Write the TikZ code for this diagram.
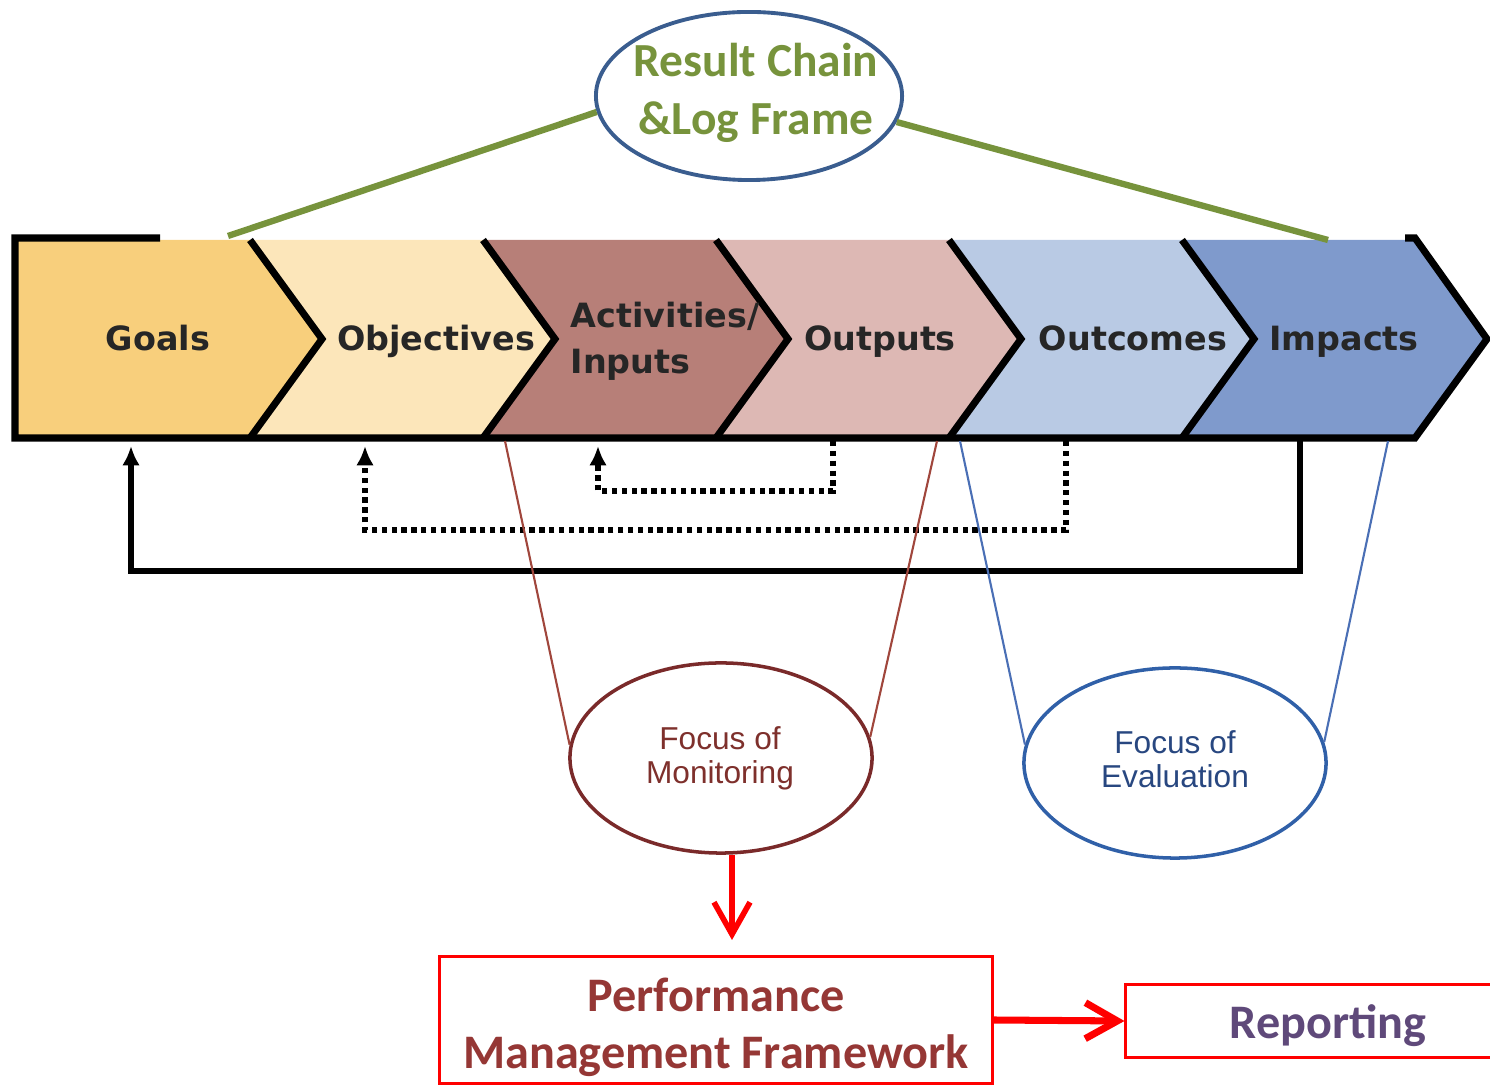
\documentclass[tikz,border=0pt]{standalone}
\usepackage{fontspec}
\newfontfamily\chevfont{DejaVu Sans}
\newfontfamily\calfont{Carlito}
\newfontfamily\focfont{Liberation Sans}
\usepackage{xcolor}
\usetikzlibrary{shapes.geometric, arrows.meta, positioning}

\definecolor{goalcol}{HTML}{F8CF7C}
\definecolor{objcol}{HTML}{FCE6BA}
\definecolor{actcol}{HTML}{B77F78}
\definecolor{outpcol}{HTML}{DDB8B4}
\definecolor{outccol}{HTML}{B9CAE4}
\definecolor{impcol}{HTML}{7F9ACC}
\definecolor{chaingreen}{HTML}{77933C}
\definecolor{chainblue}{HTML}{3A5D8F}
\definecolor{monred}{HTML}{7A2A2A}
\definecolor{montext}{HTML}{7E302C}
\definecolor{evalblue}{HTML}{3060A8}
\definecolor{evaltext}{HTML}{284780}
\definecolor{funnelred}{HTML}{A0463C}
\definecolor{funnelblue}{HTML}{4A6FB5}
\definecolor{pmfred}{HTML}{953735}
\definecolor{reppurple}{HTML}{5F497A}

\begin{document}
\begin{tikzpicture}[x=0.01cm, y=-0.01cm,
    band/.style={line width=2pt, line join=miter},
    chevlabel/.style={font=\chevfont\bfseries\fontsize{9.5}{13}\selectfont, text=black!85, inner sep=0},
    chainline/.style={chaingreen, line width=1.8pt},
    fbsolid/.style={line width=1.5pt, -{Latex[length=5.5pt,width=5pt]}},
    fbdotted/.style={line width=1.6pt, dash pattern=on 1.5pt off 1.3pt, -{Latex[length=5.5pt,width=5pt]}},
    focus/.style={ellipse, line width=1pt, minimum width=3.02cm, minimum height=1.9cm, inner sep=0},
    focustext/.style={align=center, inner sep=0, font=\focfont\fontsize{9}{9.6}\selectfont},
    redarrow/.style={red, line width=1.6pt, -{Straight Barb[length=3.2mm,width=3.6mm]}},
    framebox/.style={draw=red, line width=0.8pt, inner sep=0},
    frametext/.style={align=center, inner sep=0, font=\calfont\bfseries\fontsize{13.7}{16.2}\selectfont}]
    \useasboundingbox (0,0) rectangle (1490,1086);

    % chevron band
    \fill[goalcol] (15,240) -- (250,240) -- (322,339) -- (250,438) -- (15,438) -- cycle;
    \foreach \b/\c in {250/objcol, 483/actcol, 716/outpcol, 949/outccol, 1182/impcol} {
        \fill[\c] (\b,240) -- ({\b+233},240) -- ({\b+305},339) -- ({\b+233},438) -- (\b,438) -- ({\b+72},339) -- cycle;
    }
    \draw[band] (160,238) -- (15,238) -- (15,438) -- (1415,438) -- (1487,339) -- (1415,238) -- (1405,238);
    \foreach \b in {250, 483, 716, 949, 1182} {
        \draw[band] (\b,240) -- ({\b+72},339) -- (\b,438);
    }

    \node[chevlabel, anchor=base] (goals) at (158,351) {Goals};
    \node[chevlabel, anchor=base] (objectives) at (436,351) {Objectives};
    \node[chevlabel, anchor=west, align=left] (activities) at (570,341) {Activities/\\Inputs};
    \node[chevlabel, anchor=base] (outputs) at (880,351) {Outputs};
    \node[chevlabel, anchor=base] (outcomes) at (1133,351) {Outcomes};
    \node[chevlabel, anchor=base] (impacts) at (1344,351) {Impacts};

    % result chain
    \node[ellipse, draw=chainblue, line width=1.1pt, minimum width=3.06cm, minimum height=1.68cm, inner sep=0] (chain) at (749,96) {};
    \node[align=center, inner sep=0, text=chaingreen, font=\calfont\bfseries\fontsize{13.5}{16.5}\selectfont] (chaintext) at (756,93) {Result Chain\\\&Log Frame};
    \coordinate (gleft) at (228,236);
    \coordinate (gright) at (1328,240);
    \draw[chainline] (gleft) -- (chain.186);
    \draw[chainline] (chain.350) -- (gright);

    % feedback loops
    \coordinate (impb) at (1300,441);
    \coordinate (goalb) at (131,446);
    \coordinate (outcb) at (1066,441);
    \coordinate (objb) at (365,446);
    \coordinate (outpb) at (833,441);
    \coordinate (actb) at (598,446);
    \draw[fbsolid] (impb) -- (1300,571) -| (goalb);
    \draw[fbdotted] (outcb) -- (1066,530) -| (objb);
    \draw[fbdotted] (outpb) -- (833,491) -| (actb);

    % focus ellipses
    \node[focus, draw=monred] (mon) at (721,758) {};
    \node[focustext, text=montext] (montxt) at (720,758) {Focus of\\Monitoring};
    \node[focus, draw=evalblue] (eval) at (1175,763) {};
    \node[focustext, text=evaltext] (evaltxt) at (1175,759) {Focus of\\Evaluation};
    \coordinate (monl) at (505,441);
    \coordinate (monr) at (937,441);
    \coordinate (evl) at (960,441);
    \coordinate (evr) at (1388,441);
    \draw[funnelred, line width=0.6pt] (monl) -- (mon.175);
    \draw[funnelred, line width=0.6pt] (monr) -- (mon.8);
    \draw[funnelblue, line width=0.6pt] (evl) -- (eval.173);
    \draw[funnelblue, line width=0.6pt] (evr) -- (eval.8);

    % framework and reporting
    \node[framebox, minimum width=5.52cm, minimum height=1.27cm] (pmf) at (716,1020) {};
    \node[frametext, text=pmfred] (pmftxt) at (716,1027) {Performance\\Management Framework};
    \node[framebox, minimum width=4.04cm, minimum height=0.73cm] (rep) at (1328,1021) {};
    \node[frametext, text=reppurple] (reptxt) at (1328,1026) {Reporting};
    \coordinate (pmftop) at (732,940);
    \draw[redarrow] (mon.south -| pmftop) -- (pmftop);
    \draw[redarrow, line width=2pt] (pmf.east) -- (rep.west);
\end{tikzpicture}
\end{document}
